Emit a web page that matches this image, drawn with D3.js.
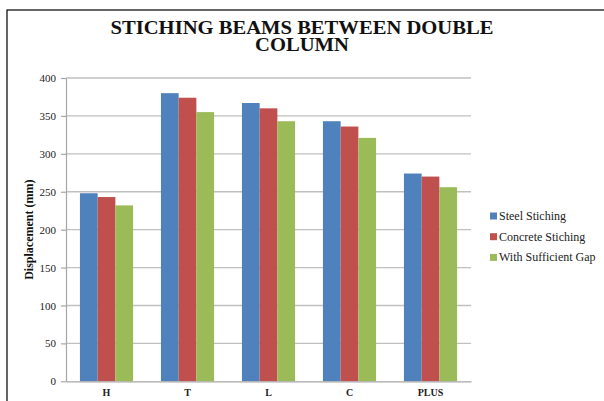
<!DOCTYPE html>
<html>
<head>
<meta charset="utf-8">
<script src="https://cdn.jsdelivr.net/npm/d3@7/dist/d3.min.js"></script>
<style>
  html, body { margin: 0; padding: 0; background: #fff; }
  svg { display: block; }
</style>
</head>
<body>
<svg id="chart" width="604" height="401"></svg>
<script>
// Displacement per column shape, one array per stitching method
const categories = ["H", "T", "L", "C", "PLUS"];
const seriesNames = ["Steel Stiching", "Concrete Stiching", "With Sufficient Gap"];
const steelStiching = [248, 380, 367, 343, 274];
const concreteStiching = [243, 374, 360, 336, 270];
const withSufficientGap = [232, 355, 343, 321, 256];
const yTicks = [0, 50, 100, 150, 200, 250, 300, 350, 400];
const colors = ["#4F81BD", "#C0504D", "#9BBB59"];

const seriesValues = [steelStiching, concreteStiching, withSufficientGap];

const svg = d3.select("#chart");
const serif = "'Liberation Serif', 'Times New Roman', serif";

// Outer chart frame (extends past the visible area on the right and bottom)
svg.append("rect")
  .attr("x", 7).attr("y", 10)
  .attr("width", 620).attr("height", 420)
  .attr("fill", "#fff")
  .attr("stroke", "#000").attr("stroke-width", 1.2);

// Title, two lines, slightly widened
const title = svg.append("g")
  .attr("transform", "translate(302,0) scale(1.085,1)")
  .append("text")
  .attr("text-anchor", "middle")
  .attr("font-family", serif)
  .attr("font-weight", "bold")
  .attr("font-size", 19)
  .attr("fill", "#111");
title.append("tspan").attr("x", 0).attr("y", 34.5).text("STICHING BEAMS BETWEEN DOUBLE");
title.append("tspan").attr("x", 0).attr("y", 51).text("COLUMN");

const plot = { left: 66, right: 471, top: 78, bottom: 381.3 };

const y = d3.scaleLinear().domain([0, 400]).range([plot.bottom, plot.top]);
const x0 = d3.scaleBand().domain(categories).range([plot.left, plot.right]).padding(0);
const x1 = d3.scaleBand().domain(seriesNames)
  .range([x0.bandwidth() * 0.172, x0.bandwidth() * 0.828]).padding(0);

// Horizontal gridlines
svg.append("g")
  .selectAll("line")
  .data(yTicks.filter(d => d > 0))
  .join("line")
  .attr("x1", plot.left).attr("x2", plot.right)
  .attr("y1", d => y(d)).attr("y2", d => y(d))
  .attr("stroke", "#c0c0c0").attr("stroke-width", 1.3);

// Bars
const groups = svg.append("g")
  .selectAll("g")
  .data(categories)
  .join("g")
  .attr("transform", d => `translate(${x0(d)},0)`);

groups.selectAll("rect")
  .data((c, i) => seriesNames.map((s, j) => ({ s, j, v: seriesValues[j][i] })))
  .join("rect")
  .attr("x", d => x1(d.s))
  .attr("y", d => y(d.v))
  .attr("width", x1.bandwidth())
  .attr("height", d => y(0) - y(d.v))
  .attr("fill", d => colors[d.j]);

// Y axis
const yAxis = svg.append("g")
  .attr("transform", `translate(${plot.left},0)`)
  .call(d3.axisLeft(y).tickValues(yTicks).tickSize(5).tickPadding(5).tickSizeOuter(0));
yAxis.attr("font-family", serif);
yAxis.select(".domain").attr("stroke", "#a6a6a6").attr("stroke-width", 1.2);
yAxis.selectAll(".tick line").attr("stroke", "#a6a6a6").attr("stroke-width", 1.2);
yAxis.selectAll(".tick text")
  .attr("font-family", serif)
  .attr("font-size", 11)
  .attr("fill", "#222");

// X axis
const xAxis = svg.append("g")
  .attr("transform", `translate(0,${plot.bottom})`)
  .call(d3.axisBottom(x0).tickSize(0).tickPadding(8));
xAxis.attr("font-family", serif);
xAxis.select(".domain").attr("stroke", "#a6a6a6").attr("stroke-width", 1.3);
xAxis.selectAll(".tick text")
  .attr("font-family", serif)
  .attr("font-weight", "bold")
  .attr("font-size", 10)
  .attr("fill", "#222");

// Y axis title
svg.append("text")
  .attr("transform", `translate(32.5,${(plot.top + plot.bottom) / 2}) rotate(-90)`)
  .attr("text-anchor", "middle")
  .attr("font-family", serif)
  .attr("font-weight", "bold")
  .attr("font-size", 12)
  .attr("fill", "#111")
  .text("Displacement (mm)");

// Legend
const legend = svg.append("g")
  .selectAll("g")
  .data(seriesNames)
  .join("g")
  .attr("transform", (d, i) => `translate(490,${216 + i * 20.7})`);
legend.append("rect")
  .attr("x", 0).attr("y", -3.5)
  .attr("width", 7).attr("height", 7)
  .attr("fill", (d, i) => colors[i]);
legend.append("text")
  .attr("x", 9).attr("y", 4)
  .attr("font-family", serif)
  .attr("font-size", 12)
  .attr("fill", "#222")
  .text(d => d);
</script>
</body>
</html>
